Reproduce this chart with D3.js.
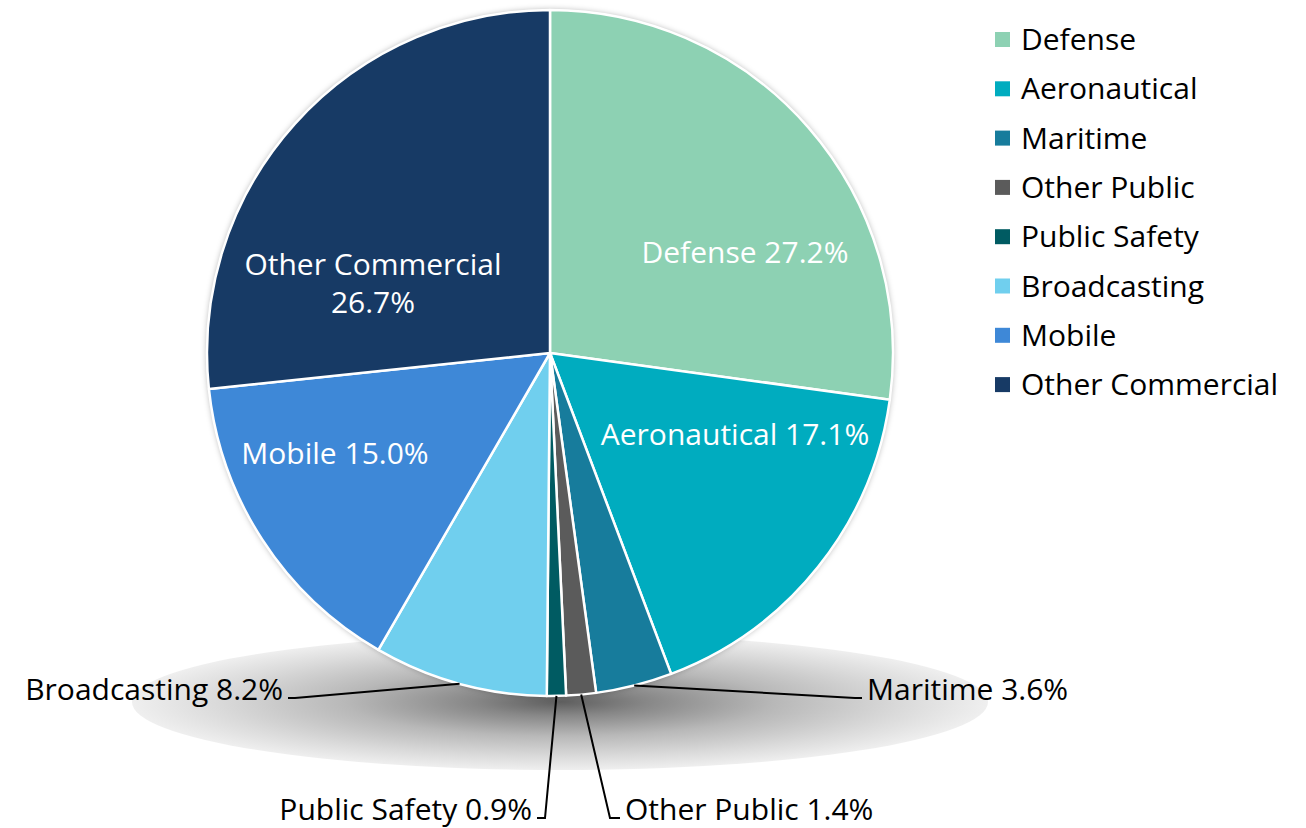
<!DOCTYPE html>
<html>
<head>
<meta charset="utf-8">
<script src="https://cdn.jsdelivr.net/npm/d3@7"></script>
<style>
  body { margin: 0; background: #fff; }
  text { font-family: "Open Sans", Lato, sans-serif; }
</style>
</head>
<body>
<div id="chart"></div>
<script>
// slice data, clockwise from 12 o'clock
var categories = ["Defense", "Aeronautical", "Maritime", "Other Public", "Public Safety", "Broadcasting", "Mobile", "Other Commercial"];
var shares = [27.2, 17.1, 3.6, 1.4, 0.9, 8.2, 15.0, 26.7];
var colors = ["#8dd1b3", "#00acbf", "#177c9c", "#5b5b5b", "#005b62", "#70cfee", "#3e88d7", "#173a65"];

// where the labels go (inside = text baseline on the slice, outside = leader line)
var labelLayout = {
  "Defense":          {inside: true, x: 745, y: 263},
  "Aeronautical":     {inside: true, x: 735, y: 445},
  "Mobile":           {inside: true, x: 335, y: 464},
  "Other Commercial": {inside: true, x: 373, y: 275, split: true},
  "Maritime":         {bend: [855, 698], end: [862, 698], anchor: "start"},
  "Other Public":     {bend: [610, 818], end: [620, 818], anchor: "start"},
  "Public Safety":    {bend: [545, 818], end: [537, 818], anchor: "end"},
  "Broadcasting":     {bend: [295, 698], end: [288, 698], anchor: "end"}
};

var width = 1306, height = 828;
var cx = 550, cy = 353, radius = 343;
var fontSize = 30;

var svg = d3.select("#chart").append("svg")
            .attr("width", width)
            .attr("height", height);

var defs = svg.append("defs");
var grad = defs.append("radialGradient").attr("id", "floor");
grad.append("stop").attr("offset", "0%").attr("stop-color", "#5e5e5e");
grad.append("stop").attr("offset", "20%").attr("stop-color", "#878787");
grad.append("stop").attr("offset", "50%").attr("stop-color", "#b8b8b8");
grad.append("stop").attr("offset", "80%").attr("stop-color", "#dadada");
grad.append("stop").attr("offset", "100%").attr("stop-color", "#efefef");

var glow = defs.append("filter").attr("id", "glow")
               .attr("x", "-10%").attr("y", "-10%").attr("width", "120%").attr("height", "120%");
glow.append("feDropShadow").attr("dx", 0).attr("dy", 0)
    .attr("stdDeviation", 3).attr("flood-color", "#000").attr("flood-opacity", 0.35);

// shadow under the pie
svg.append("ellipse")
   .attr("cx", 560).attr("cy", 702)
   .attr("rx", 428).attr("ry", 68)
   .attr("fill", "url(#floor)");

var data = categories.map(function(c, i) { return {name: c, value: shares[i], color: colors[i]}; });

var pie = d3.pie().sort(null).value(function(d) { return d.value; });
var arc = d3.arc().innerRadius(0).outerRadius(radius);
var edge = d3.arc().innerRadius(radius).outerRadius(radius);

var g = svg.append("g").attr("transform", "translate(" + cx + "," + cy + ")");

g.append("circle").attr("r", radius).attr("fill", "#fff").attr("filter", "url(#glow)");

var arcs = pie(data);

g.selectAll("path.slice").data(arcs).enter().append("path")
  .attr("class", "slice")
  .attr("d", arc)
  .attr("fill", function(d) { return d.data.color; })
  .attr("stroke", "#fff")
  .attr("stroke-width", 2.5)
  .attr("stroke-linejoin", "round");

var fmt = function(v) { return v.toFixed(1) + "%"; };

arcs.forEach(function(d) {
  var lay = labelLayout[d.data.name];
  if (lay.inside) {
    var t = svg.append("text")
      .attr("x", lay.x).attr("y", lay.y)
      .attr("text-anchor", "middle")
      .attr("fill", "#fff")
      .attr("font-size", fontSize);
    if (lay.split) {
      t.append("tspan").attr("x", lay.x).text(d.data.name);
      t.append("tspan").attr("x", lay.x).attr("dy", 38).text(fmt(d.data.value));
    } else {
      t.text(d.data.name + " " + fmt(d.data.value));
    }
  } else {
    var p = edge.centroid(d);
    var start = [cx + p[0], cy + p[1]];
    svg.append("polyline")
      .attr("points", [start, lay.bend, lay.end].map(function(q) { return q.join(","); }).join(" "))
      .attr("fill", "none")
      .attr("stroke", "#000")
      .attr("stroke-width", 2);
    svg.append("text")
      .attr("x", lay.end[0] + (lay.anchor == "start" ? 5 : -5))
      .attr("y", lay.end[1] + 2)
      .attr("text-anchor", lay.anchor)
      .attr("fill", "#000")
      .attr("font-size", fontSize)
      .text(d.data.name + " " + fmt(d.data.value));
  }
});

// legend
var legend = svg.append("g").attr("transform", "translate(995,40)");
var item = legend.selectAll("g").data(data).enter().append("g")
  .attr("transform", function(d, i) { return "translate(0," + (i * 49.3) + ")"; });
item.append("rect")
  .attr("x", 0).attr("y", -8)
  .attr("width", 15).attr("height", 15)
  .attr("fill", function(d) { return d.color; });
item.append("text")
  .attr("x", 26).attr("y", 10)
  .attr("font-size", fontSize)
  .attr("fill", "#000")
  .text(function(d) { return d.name; });
</script>
</body>
</html>
